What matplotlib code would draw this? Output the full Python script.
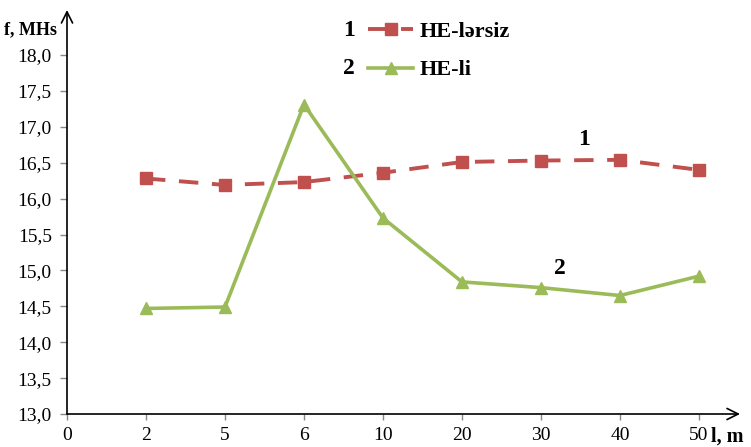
import numpy as np
import matplotlib
matplotlib.use("Agg")
import matplotlib.pyplot as plt

# Data
x_labels = ['0', '2', '5', '6', '10', '20', '30', '40', '50']
f_without = [16.28, 16.19, 16.23, 16.36, 16.51, 16.53, 16.54, 16.40]   # 1: HE-lərsiz
f_with = [14.47, 14.49, 17.31, 15.73, 14.84, 14.76, 14.65, 14.92]      # 2: HE-li
y_ticks = np.arange(13.0, 18.01, 0.5)

RED = '#C0504D'
GREEN = '#9BBB59'
SERIF = 'Liberation Serif'

plt.rcParams['font.family'] = SERIF

fig = plt.figure(figsize=(7.51, 4.47), dpi=100)
ax = fig.add_axes([67 / 751, 33 / 447, 673 / 751, 404 / 447])

pos = np.arange(1, len(x_labels))
l1, = ax.plot(pos, f_without, color=RED, lw=2.8, dashes=(5, 3.5),
              marker='s', markersize=8.5, label='HE-lərsiz')
l2, = ax.plot(pos, f_with, color=GREEN, lw=2.6,
              marker='^', markersize=9, label='HE-li')

ax.set_xlim(0, 8.52)
ax.set_ylim(13.0, 13.0 + 404 / 71.8)
ax.set_xticks(np.arange(len(x_labels)))
ax.set_xticklabels(x_labels)
ax.set_yticks(y_ticks)
ax.set_yticklabels([f"{v:.1f}".replace('.', ',') for v in y_ticks])

ax.tick_params(axis='x', direction='out', length=4, width=1, color='#888888',
               pad=5, labelsize=14)
ax.tick_params(axis='y', direction='out', length=5, width=1, color='#888888',
               pad=6, labelsize=14)

for s in ['top', 'right', 'left', 'bottom']:
    ax.spines[s].set_visible(False)

# axes with arrows
ax.annotate('', xy=(0, 1.0), xytext=(0, 0), xycoords='axes fraction',
            arrowprops=dict(arrowstyle='->', lw=1.2, color='black',
                            mutation_scale=20, shrinkA=0, shrinkB=0))
ax.annotate('', xy=(1.0, 0), xytext=(0, 0), xycoords='axes fraction',
            arrowprops=dict(arrowstyle='->', lw=1.2, color='black',
                            mutation_scale=20, shrinkA=0, shrinkB=0))

# axis titles
fig.text(4 / 751, 1 - 30 / 447, 'f, MHs', fontsize=13, fontweight='bold',
         ha='left', va='center')
fig.text(711 / 751, 1 - 437 / 447, 'l, m', fontsize=14.5, fontweight='bold',
         ha='left', va='center')

# legend
leg = ax.legend(handles=[l1, l2], loc='upper left',
                bbox_to_anchor=(364 / 751, 1 - 17 / 447),
                bbox_transform=fig.transFigure, frameon=False,
                prop=dict(family=SERIF, weight='bold', size=16),
                handlelength=2.0, handletextpad=0.3, labelspacing=0.8,
                borderpad=0.2, borderaxespad=0)
fig.text(349 / 751, 1 - 31 / 447, '1', fontsize=17, fontweight='bold',
         ha='center', va='center')
fig.text(349 / 751, 1 - 69 / 447, '2', fontsize=17, fontweight='bold',
         ha='center', va='center')

# curve numbers
ax.text(6.54, 16.83, '1', fontsize=17, fontweight='bold',
        ha='center', va='center')
ax.text(6.24, 15.03, '2', fontsize=17, fontweight='bold',
        ha='center', va='center')

fig.savefig('out.png', dpi=100)
